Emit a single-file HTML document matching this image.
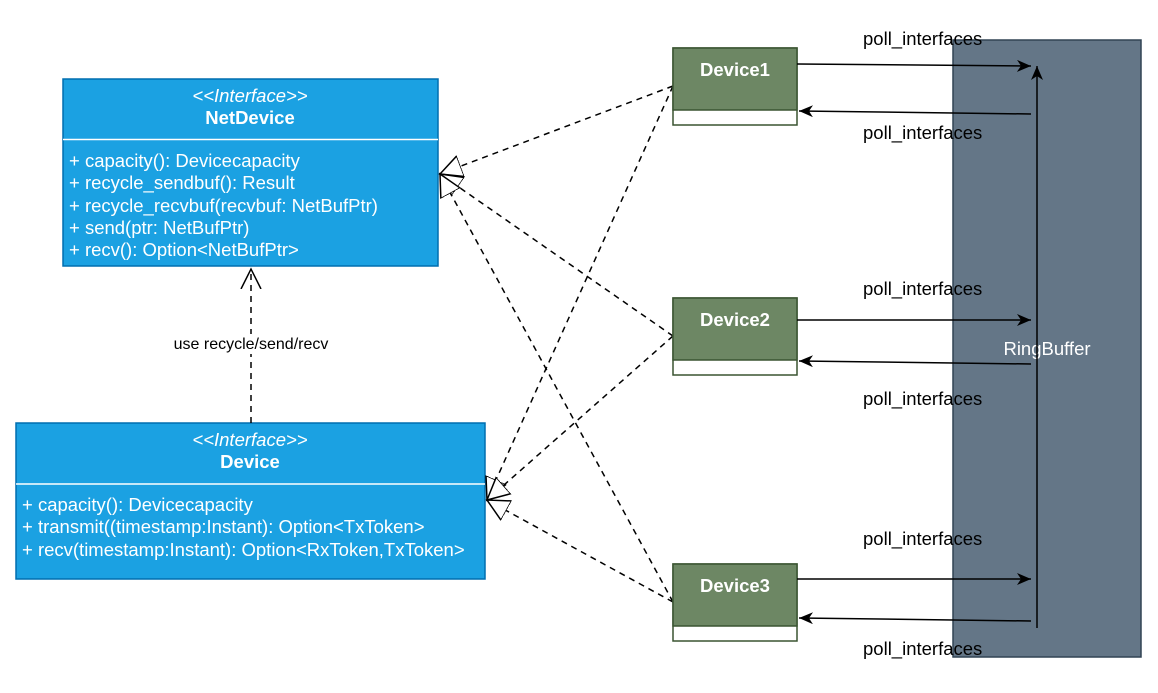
<!DOCTYPE html>
<html><head><meta charset="utf-8"><style>
html,body{margin:0;padding:0;background:#fff;}
svg text{font-family:"Liberation Sans",Arial,sans-serif;}
</style></head><body>
<svg width="1158" height="688" viewBox="0 0 1158 688" xmlns="http://www.w3.org/2000/svg">
<defs>
<marker id="tri" markerWidth="24" markerHeight="24" refX="20" refY="12" orient="auto" markerUnits="userSpaceOnUse">
<path d="M0,2 L20,12 L0,22" fill="none" stroke="#000" stroke-width="1.5"/>
</marker>
<marker id="hollow" markerWidth="26" markerHeight="26" refX="22" refY="13" orient="auto" markerUnits="userSpaceOnUse">
<path d="M0,2 L22,13 L0,24 Z" fill="#fff" stroke="#000" stroke-width="1.5"/>
</marker>
<marker id="arr" markerWidth="16" markerHeight="12" refX="14" refY="6" orient="auto" markerUnits="userSpaceOnUse">
<path d="M0,0 L14,6 L0,12 L4,6 Z" fill="#000"/>
</marker>
</defs>

<!-- RingBuffer -->
<rect x="953" y="40" width="188" height="617" fill="#647687" stroke="#314354" stroke-width="1.5"/>
<text x="1047" y="355" font-size="18.5" fill="#fff" text-anchor="middle">RingBuffer</text>

<!-- NetDevice -->
<rect x="63" y="79" width="375" height="187" fill="#1ba1e2" stroke="#006eaf" stroke-width="1.5"/>
<line x1="63" y1="139.5" x2="438" y2="139.5" stroke="#fff" stroke-width="1.5"/>
<text x="250" y="102" font-size="18.5" fill="#fff" text-anchor="middle" font-style="italic">&lt;&lt;Interface&gt;&gt;</text>
<text x="250" y="124" font-size="18.5" fill="#fff" text-anchor="middle" font-weight="bold">NetDevice</text>
<g font-size="18.5" fill="#fff">
<text x="69" y="167">+ capacity(): Devicecapacity</text>
<text x="69" y="189">+ recycle_sendbuf(): Result</text>
<text x="69" y="212">+ recycle_recvbuf(recvbuf: NetBufPtr)</text>
<text x="69" y="234">+ send(ptr: NetBufPtr)</text>
<text x="69" y="256">+ recv(): Option&lt;NetBufPtr&gt;</text>
</g>

<!-- Device -->
<rect x="16" y="423" width="469" height="156" fill="#1ba1e2" stroke="#006eaf" stroke-width="1.5"/>
<line x1="16" y1="484" x2="485" y2="484" stroke="#fff" stroke-width="1.5"/>
<text x="250" y="446" font-size="18.5" fill="#fff" text-anchor="middle" font-style="italic">&lt;&lt;Interface&gt;&gt;</text>
<text x="250" y="468" font-size="18.5" fill="#fff" text-anchor="middle" font-weight="bold">Device</text>
<g font-size="18.5" fill="#fff">
<text x="22" y="511">+ capacity(): Devicecapacity</text>
<text x="22" y="533">+ transmit((timestamp:Instant): Option&lt;TxToken&gt;</text>
<text x="22" y="556">+ recv(timestamp:Instant): Option&lt;RxToken,TxToken&gt;</text>
</g>

<!-- use dependency -->
<line x1="251" y1="423" x2="251" y2="269" stroke="#000" stroke-width="1.5" stroke-dasharray="6,5" marker-end="url(#tri)"/>
<rect x="164" y="334" width="174" height="20" fill="#fff"/>
<text x="251" y="349" font-size="16" fill="#000" text-anchor="middle">use recycle/send/recv</text>

<!-- realization lines -->
<g stroke="#000" stroke-width="1.5" stroke-dasharray="6,5" fill="none">
<line x1="673" y1="86" x2="440" y2="174" marker-end="url(#hollow)"/>
<line x1="673" y1="336" x2="440" y2="174" marker-end="url(#hollow)"/>
<line x1="673" y1="602" x2="440" y2="174" marker-end="url(#hollow)"/>
<line x1="673" y1="86" x2="487" y2="500" marker-end="url(#hollow)"/>
<line x1="673" y1="336" x2="487" y2="500" marker-end="url(#hollow)"/>
<line x1="673" y1="602" x2="487" y2="500" marker-end="url(#hollow)"/>
</g>

<!-- Devices -->
<g>
<rect x="673" y="48" width="124" height="77" fill="#fff" stroke="#3a5431" stroke-width="1.5"/>
<rect x="673" y="48" width="124" height="62" fill="#6d8764" stroke="#3a5431" stroke-width="1.5"/>
<text x="735" y="76" font-size="18.5" fill="#fff" text-anchor="middle" font-weight="bold">Device1</text>
<rect x="673" y="298" width="124" height="77" fill="#fff" stroke="#3a5431" stroke-width="1.5"/>
<rect x="673" y="298" width="124" height="62" fill="#6d8764" stroke="#3a5431" stroke-width="1.5"/>
<text x="735" y="326" font-size="18.5" fill="#fff" text-anchor="middle" font-weight="bold">Device2</text>
<rect x="673" y="564" width="124" height="77" fill="#fff" stroke="#3a5431" stroke-width="1.5"/>
<rect x="673" y="564" width="124" height="62" fill="#6d8764" stroke="#3a5431" stroke-width="1.5"/>
<text x="735" y="592" font-size="18.5" fill="#fff" text-anchor="middle" font-weight="bold">Device3</text>
</g>

<!-- arrows -->
<g stroke="#000" stroke-width="1.5" fill="none">
<line x1="797" y1="64" x2="1031" y2="66" marker-end="url(#arr)"/>
<line x1="1031" y1="114" x2="799" y2="111" marker-end="url(#arr)"/>
<line x1="797" y1="320" x2="1031" y2="320" marker-end="url(#arr)"/>
<line x1="1031" y1="364" x2="799" y2="361" marker-end="url(#arr)"/>
<line x1="797" y1="579" x2="1031" y2="579" marker-end="url(#arr)"/>
<line x1="1031" y1="621" x2="799" y2="618" marker-end="url(#arr)"/>
<line x1="1037" y1="628" x2="1037" y2="66" marker-end="url(#arr)"/>
</g>

<g font-size="18.5" fill="#000">
<text x="863" y="45">poll_interfaces</text>
<text x="863" y="139">poll_interfaces</text>
<text x="863" y="295">poll_interfaces</text>
<text x="863" y="405">poll_interfaces</text>
<text x="863" y="545">poll_interfaces</text>
<text x="863" y="655">poll_interfaces</text>
</g>
</svg>
</body></html>
